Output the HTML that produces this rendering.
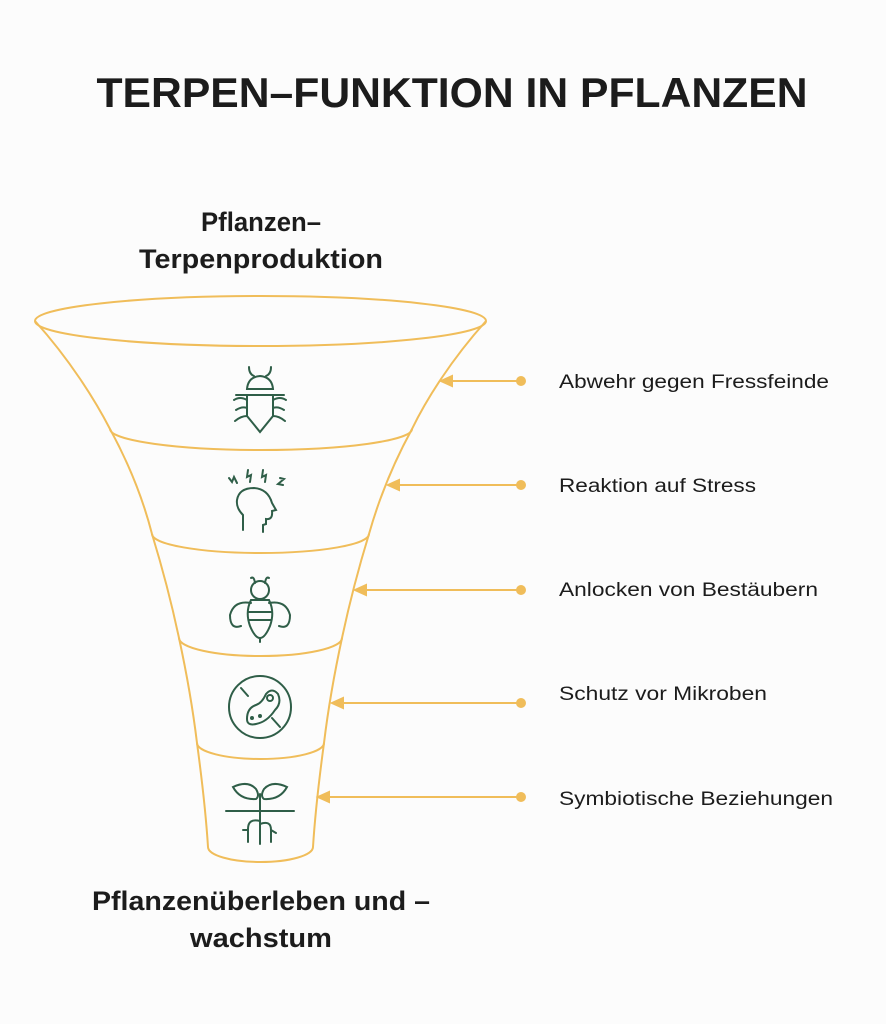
<!DOCTYPE html>
<html><head><meta charset="utf-8"><style>
html,body{margin:0;padding:0;background:#fcfcfc;}
svg{display:block;}
text{font-family:"Liberation Sans",sans-serif;fill:#1c1c1c;}
</style></head><body>
<svg width="886" height="1024" viewBox="0 0 886 1024">
<rect width="886" height="1024" fill="#fcfcfc"/>
<text x="452" y="107" font-size="42" font-weight="bold" text-anchor="middle" textLength="711" lengthAdjust="spacingAndGlyphs">TERPEN–FUNKTION IN PFLANZEN</text>
<text x="261" y="231" font-size="27" font-weight="bold" text-anchor="middle" textLength="120" lengthAdjust="spacingAndGlyphs">Pflanzen–</text>
<text x="261" y="268" font-size="27" font-weight="bold" text-anchor="middle" textLength="244" lengthAdjust="spacingAndGlyphs">Terpenproduktion</text>
<text x="261" y="910" font-size="27" font-weight="bold" text-anchor="middle" textLength="338" lengthAdjust="spacingAndGlyphs">Pflanzenüberleben und –</text>
<text x="261" y="947" font-size="27" font-weight="bold" text-anchor="middle" textLength="142" lengthAdjust="spacingAndGlyphs">wachstum</text>

<g fill="none" stroke="#f0bd5a" stroke-width="2">
<ellipse cx="260.5" cy="321" rx="225.5" ry="25"/>
<path d="M35,321 C70,360 95,400 110,429 C128,462 142,495 152,534 C163,570 172,605 179,638 C187,675 193,710 197,743 C202,780 206,815 208,847"/>
<path d="M486,321 C451,360 426,400 412,429 C394,462 380,495 369,534 C358,570 349,605 342,638 C334,675 328,710 324,743 C319,780 315,815 313,847"/>
<path d="M110,429 A151,21 0 0 0 412,429"/>
<path d="M152,534 A108.5,19 0 0 0 369,534"/>
<path d="M179,638 A81.5,18 0 0 0 342,638"/>
<path d="M197,743 A63.5,16 0 0 0 324,743"/>
<path d="M208,847 A52.5,15 0 0 0 313,847"/>
</g>
<g stroke="#f0bd5a" stroke-width="2" fill="#f0bd5a">
<line x1="450" y1="381" x2="521" y2="381"/><path d="M441,381 L452,376 L452,386Z"/><circle cx="521" cy="381" r="4"/>
<line x1="397" y1="485" x2="521" y2="485"/><path d="M388,485 L399,480 L399,490Z"/><circle cx="521" cy="485" r="4"/>
<line x1="364" y1="590" x2="521" y2="590"/><path d="M355,590 L366,585 L366,595Z"/><circle cx="521" cy="590" r="4"/>
<line x1="341" y1="703" x2="521" y2="703"/><path d="M332,703 L343,698 L343,708Z"/><circle cx="521" cy="703" r="4"/>
<line x1="327" y1="797" x2="521" y2="797"/><path d="M318,797 L329,792 L329,802Z"/><circle cx="521" cy="797" r="4"/>
</g>
<g font-size="19">
<text x="559" y="388" textLength="270" lengthAdjust="spacingAndGlyphs">Abwehr gegen Fressfeinde</text>
<text x="559" y="492" textLength="197" lengthAdjust="spacingAndGlyphs">Reaktion auf Stress</text>
<text x="559" y="596" textLength="259" lengthAdjust="spacingAndGlyphs">Anlocken von Bestäubern</text>
<text x="559" y="700" textLength="208" lengthAdjust="spacingAndGlyphs">Schutz vor Mikroben</text>
<text x="559" y="805" textLength="274" lengthAdjust="spacingAndGlyphs">Symbiotische Beziehungen</text>
</g>

<g fill="none" stroke="#2f5e48" stroke-width="2" stroke-linecap="round">
<path d="M249,367 Q249,374 254,376 M271,367 Q271,374 266,376"/>
<path d="M247,389 Q248,377 260,376 Q272,377 273,389 Z"/>
<path d="M236,395 L284,395 M247,395 L247,416 L260,432 L273,416 L273,395"/>
<path d="M234,400 Q240,396 247,400 M286,400 Q280,396 273,400 M236,410 Q242,406 247,408 M284,410 Q278,406 273,408 M235,421 Q241,416 247,416 M285,421 Q279,416 273,416"/>
<path d="M229,478 L232,482 L234,477 L237,483 M248,470 L247,477 L251,475 L250,482 M263,470 L262,477 L266,475 L265,482 M280,478 L284,479 L278,484 L283,485"/>
<path d="M243,530 L243,515 Q236,508 237,500 Q239,488 254,488 Q268,489 272,503 L276,510 L272,511 Q273,520 266,519 L266,524 L263,525 L263,532"/>
<path d="M251,578 Q254,576 255,583 M269,578 Q266,576 265,583"/>
<circle cx="260" cy="590" r="9"/>
<path d="M251,600 Q245,612 250,626 Q255,638 260,638 Q265,638 270,626 Q275,612 269,600 Z M249,612 L271,612 M249,620 L271,620 M260,638 L260,642"/>
<path d="M251,603 Q234,600 230,615 Q230,630 241,626 M269,603 Q286,600 290,615 Q290,630 279,626"/>
<circle cx="260" cy="707" r="31"/>
<path d="M241,688 L248,696 M272,718 L280,727"/>
<path d="M247,719 Q247,708 256,705 Q262,703 266,694 Q272,687 278,694 Q282,703 275,710 Q267,722 256,724 Q247,726 247,719 Z"/>
<circle cx="270" cy="698" r="3"/><circle cx="252" cy="718" r="1" /><circle cx="260" cy="716" r="1"/>
</g>
<g fill="none" stroke="#2f5e48" stroke-width="2" stroke-linecap="round">
<path d="M233,787 Q248,780 256,789 Q260,796 256,799 Q240,800 233,787 Z M287,787 Q272,780 264,789 Q260,796 264,799 Q280,800 287,787 Z"/>
<path d="M260,794 L260,844 M226,811 L294,811 M260,821 Q248,818 248,829 L248,842 M260,824 Q271,820 271,830 L271,842 M248,830 L243,830 M271,830 L276,833"/>
</g>
</svg>
</body></html>
